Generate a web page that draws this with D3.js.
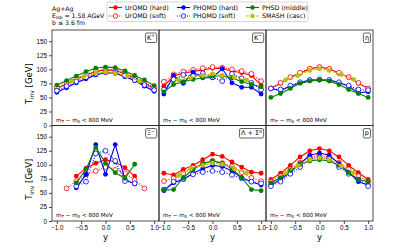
<!DOCTYPE html>
<html>
<head>
<meta charset="utf-8">
<script src="https://cdn.jsdelivr.net/npm/d3@7"></script>
<style>
  body { margin: 0; background: #fff; }
  svg { font-family: 'DejaVu Sans', sans-serif; }
  .tick text { font-size: 6.3px; fill: #000; }
  .tick line { stroke: #000; stroke-width: 0.7; }
  .domain { display: none; }
</style>
</head>
<body>
<div id="chart"></div>
<script>
//Rapidity bins
const rapFull = [-1.0, -0.8, -0.6, -0.4, -0.2, 0.0, 0.2, 0.4, 0.6, 0.8, 1.0];
const rapXi = [-0.6, -0.4, -0.2, 0.0, 0.2, 0.4, 0.6];
const rapXiSoft = [-0.8, -0.6, -0.4, -0.2, 0.0, 0.2, 0.4, 0.6, 0.8];
const rapSmash = [-0.7, -0.45, -0.2, 0.0, 0.2, 0.45, 0.7];

//K+
const kpUrqmdHard = [66, 74, 82, 90, 96, 99, 98, 92, 84, 75, 66];
const kpUrqmdSoft = [68, 76, 84, 91, 97, 100, 99, 94, 86, 77, 68];
const kpPhqmdHard = [59, 67, 76, 83, 90, 94, 93, 87, 80, 70, 61];
const kpPhqmdSoft = [62, 70, 78, 86, 92, 95, 94, 89, 81, 72, 63];
const kpPhsd = [72, 80, 88, 96, 102, 104, 103, 97, 89, 81, 71];
const kpSmash = [79, 87, 93, 95, 93, 88, 79];

//K-
const kmUrqmdHard = [70, 88, 93, 96, 99, 102, 101, 97, 94, 89, 72];
const kmUrqmdSoft = [78, 91, 96, 99, 102, 104, 103, 100, 97, 92, 79];
const kmPhqmdHard = [56, 89, 75, 95, 85, 85, 101, 76, 68, 68, 56];
const kmPhqmdSoft = [64, 82, 90, 88, 93, 86, 79, 92, 84, 76, 64];
const kmPhsd = [60, 73, 78, 82, 85, 88, 88, 85, 78, 73, 69];
const kmSmash = [81, 85, 89, 92, 89, 86, 81];

//eta
const etaUrqmdHard = [66, 75, 86, 93, 101, 104, 101, 93, 86, 75, 66];
const etaUrqmdSoft = [66, 76, 86, 94, 101, 104, 101, 94, 86, 76, 66];
const etaPhqmdHard = [66, 62, 70, 76, 81, 81, 81, 76, 70, 58, 60];
const etaPhqmdSoft = [66, 64, 71, 77, 81, 82, 81, 77, 71, 64, 63];
const etaPhsd = [50, 57, 66, 75, 79, 81, 79, 73, 64, 57, 50];
const etaSmash = [81, 89, 98, 101, 98, 91, 82];

//Xi-
const xiUrqmdHard = [80, 94, 103, 109, 105, 95, 80];
const xiUrqmdSoft = [58, 71, 83, 89, 96, 91, 85, 73, 58];
const xiPhqmdHard = [59, 83, 136, 83, 136, 74, 66];
const xiPhqmdSoft = [62, 70, 120, 125, 107, 71, 67];
const xiPhsd = [68, 92, 131, 103, 86, 76, 101];

//Lambda + Sigma0
const laUrqmdHard = [85, 82, 92, 99, 109, 119, 115, 105, 96, 87, 85];
const laUrqmdSoft = [71, 76, 85, 95, 102, 107, 103, 97, 87, 77, 71];
const laPhqmdHard = [54, 68, 74, 85, 93, 99, 97, 89, 77, 70, 64];
const laPhqmdSoft = [56, 70, 75, 83, 87, 89, 87, 82, 76, 70, 67];
const laPhsd = [55, 56, 77, 92, 102, 107, 103, 93, 77, 56, 54];
const laSmash = [81, 93, 99, 103, 101, 93, 85];

//protons
const pUrqmdHard = [74, 85, 99, 114, 125, 129, 125, 114, 99, 86, 74];
const pUrqmdSoft = [70, 80, 92, 104, 113, 117, 113, 104, 92, 80, 70];
const pPhqmdHard = [64, 74, 87, 102, 117, 121, 117, 102, 87, 70, 64];
const pPhqmdSoft = [62, 70, 84, 96, 111, 113, 111, 96, 84, 74, 62];
const pPhsd = [68, 77, 90, 101, 107, 109, 107, 99, 86, 74, 70];
const pSmash = [86, 98, 109, 112, 109, 98, 86];

//Model styles
const models = [
    {key: 'urqmdHard', label: 'UrQMD (hard)', color: '#ff0000', dash: null, open: false},
    {key: 'urqmdSoft', label: 'UrQMD (soft)', color: '#ff0000', dash: '1,1.5', open: true},
    {key: 'phqmdHard', label: 'PHQMD (hard)', color: '#0000ff', dash: null, open: false},
    {key: 'phqmdSoft', label: 'PHQMD (soft)', color: '#0000ff', dash: '1,1.5', open: true},
    {key: 'phsd', label: 'PHSD (middle)', color: '#008000', dash: null, open: false},
    {key: 'smash', label: 'SMASH (casc)', color: '#bfbf00', dash: '3.5,1.5', open: false}
];

const panels = [
    {row: 0, col: 0, tag: ['K', '+'], series: {
        urqmdHard: [rapFull, kpUrqmdHard], urqmdSoft: [rapFull, kpUrqmdSoft],
        phqmdHard: [rapFull, kpPhqmdHard], phqmdSoft: [rapFull, kpPhqmdSoft],
        phsd: [rapFull, kpPhsd], smash: [rapSmash, kpSmash]}},
    {row: 0, col: 1, tag: ['K', '−'], series: {
        urqmdHard: [rapFull, kmUrqmdHard], urqmdSoft: [rapFull, kmUrqmdSoft],
        phqmdHard: [rapFull, kmPhqmdHard], phqmdSoft: [rapFull, kmPhqmdSoft],
        phsd: [rapFull, kmPhsd], smash: [rapSmash, kmSmash]}},
    {row: 0, col: 2, tag: ['η', ''], series: {
        urqmdHard: [rapFull, etaUrqmdHard], urqmdSoft: [rapFull, etaUrqmdSoft],
        phqmdHard: [rapFull, etaPhqmdHard], phqmdSoft: [rapFull, etaPhqmdSoft],
        phsd: [rapFull, etaPhsd], smash: [rapSmash, etaSmash]}},
    {row: 1, col: 0, tag: ['Ξ', '−'], series: {
        urqmdHard: [rapXi, xiUrqmdHard], urqmdSoft: [rapXiSoft, xiUrqmdSoft],
        phqmdHard: [rapXi, xiPhqmdHard], phqmdSoft: [rapXi, xiPhqmdSoft],
        phsd: [rapXi, xiPhsd]}},
    {row: 1, col: 1, tag: ['Λ + Σ', '0'], series: {
        urqmdHard: [rapFull, laUrqmdHard], urqmdSoft: [rapFull, laUrqmdSoft],
        phqmdHard: [rapFull, laPhqmdHard], phqmdSoft: [rapFull, laPhqmdSoft],
        phsd: [rapFull, laPhsd], smash: [rapSmash, laSmash]}},
    {row: 1, col: 2, tag: ['p', ''], series: {
        urqmdHard: [rapFull, pUrqmdHard], urqmdSoft: [rapFull, pUrqmdSoft],
        phqmdHard: [rapFull, pPhqmdHard], phqmdSoft: [rapFull, pPhqmdSoft],
        phsd: [rapFull, pPhsd], smash: [rapSmash, pSmash]}}
];

const yTicks = [0, 25, 50, 75, 100, 125, 150];
const xTicks = [-1.0, -0.5, 0.0, 0.5, 1.0];

//Layout
const width = 415, height = 249;
const margin = {left: 52, top: 30};
const pw = 107, ph = 95.5;

const x = d3.scaleLinear().domain([-1.1, 1.1]).range([0, pw]);
const y = d3.scaleLinear().domain([0, 170]).range([ph, 0]);

const line = d3.line().x(d => x(d[0])).y(d => y(d[1]));

const svg = d3.select('#chart').append('svg')
    .attr('width', width)
    .attr('height', height);

panels.forEach(p => {
    const g = svg.append('g')
        .attr('transform', `translate(${margin.left + p.col * pw}, ${margin.top + p.row * ph})`);

    //Axes
    if (p.col === 0) {
        g.append('g')
            .call(d3.axisLeft(y).tickValues(yTicks).tickSize(3).tickPadding(2));
    }
    if (p.row === 1) {
        g.append('g')
            .attr('transform', `translate(0, ${ph})`)
            .call(d3.axisBottom(x).tickValues(xTicks).tickSize(3).tickPadding(1.5)
                .tickFormat(d => d3.format('.1f')(d).replace('-', '−')));
        g.append('text')
            .attr('x', pw / 2).attr('y', ph + 19)
            .attr('text-anchor', 'middle')
            .attr('font-size', 8.5)
            .text('y');
    }

    //Series
    models.forEach(m => {
        const s = p.series[m.key];
        if (!s) return;
        const pts = s[0].map((r, i) => [r, s[1][i]]);
        g.append('path')
            .attr('d', line(pts))
            .attr('fill', 'none')
            .attr('stroke', m.color)
            .attr('stroke-width', 1.1)
            .attr('stroke-dasharray', m.dash);
        g.selectAll(null)
            .data(pts)
            .enter()
            .append('circle')
            .attr('cx', d => x(d[0]))
            .attr('cy', d => y(d[1]))
            .attr('r', 2.4)
            .attr('fill', m.open ? '#fff' : m.color)
            .attr('stroke', m.color)
            .attr('stroke-width', m.open ? 0.8 : 0);
    });

    //Frame
    g.append('rect')
        .attr('width', pw).attr('height', ph)
        .attr('fill', 'none')
        .attr('stroke', '#222')
        .attr('stroke-width', 0.8);

    //Particle tag
    const tag = g.append('g');
    const tt = tag.append('text')
        .attr('font-size', 6.5)
        .attr('text-anchor', 'end')
        .attr('x', pw - 4).attr('y', 9.5);
    tt.append('tspan').text(p.tag[0]);
    if (p.tag[1]) {
        tt.append('tspan').attr('font-size', 4.5).attr('dy', -2.5).text(p.tag[1]);
    }
    const bb = tt.node().getBBox();
    tag.insert('rect', 'text')
        .attr('x', bb.x - 1.5).attr('y', 3)
        .attr('width', bb.width + 3).attr('height', 9.5)
        .attr('rx', 1.5)
        .attr('fill', '#fff')
        .attr('stroke', '#222')
        .attr('stroke-width', 0.7);

    //Cut annotation
    const cut = g.append('text')
        .attr('x', 4).attr('y', ph - 4)
        .attr('font-size', 5.6);
    cut.append('tspan').text('m');
    cut.append('tspan').attr('font-size', 4).attr('dy', 1.2).text('T');
    cut.append('tspan').attr('dy', -1.2).text(' − m');
    cut.append('tspan').attr('font-size', 4).attr('dy', 1.2).text('0');
    cut.append('tspan').attr('dy', -1.2).text(' < 800 MeV');
});

//Y labels
[0, 1].forEach(r => {
    const t = svg.append('text')
        .attr('transform', `translate(32, ${margin.top + r * ph + ph / 2 + 6}) rotate(-90)`)
        .attr('text-anchor', 'middle')
        .attr('font-size', 8.5);
    t.append('tspan').text('T');
    t.append('tspan').attr('font-size', 6).attr('dy', 2).text('inv');
    t.append('tspan').attr('dy', -2).text('  [GeV]');
});

//System info
const info = svg.append('g').attr('font-size', 6.2);
info.append('text').attr('x', 52).attr('y', 11).text('Ag+Ag');
const e = info.append('text').attr('x', 52).attr('y', 18);
e.append('tspan').text('E');
e.append('tspan').attr('font-size', 4.3).attr('dy', 1.3).text('lab');
e.append('tspan').attr('dy', -1.3).text(' = 1.58 AGeV');
info.append('text').attr('x', 52).attr('y', 25).text('b ≤ 3.6 fm');

//Legend
const legend = svg.append('g');
legend.append('rect')
    .attr('x', 107).attr('y', 2)
    .attr('width', 201).attr('height', 19.5)
    .attr('rx', 2)
    .attr('fill', '#fff')
    .attr('stroke', '#ccc')
    .attr('stroke-width', 0.8);

const colX = [109, 177, 246];
const rowY = [7.5, 16];
models.forEach((m, i) => {
    const cx = colX[Math.floor(i / 2)];
    const cy = rowY[i % 2];
    const k = legend.append('g');
    k.append('line')
        .attr('x1', cx).attr('x2', cx + 13)
        .attr('y1', cy).attr('y2', cy)
        .attr('stroke', m.color)
        .attr('stroke-width', 1.1)
        .attr('stroke-dasharray', m.dash);
    k.append('circle')
        .attr('cx', cx + 6.5).attr('cy', cy)
        .attr('r', 2.2)
        .attr('fill', m.open ? '#fff' : m.color)
        .attr('stroke', m.color)
        .attr('stroke-width', m.open ? 0.8 : 0);
    k.append('text')
        .attr('x', cx + 16).attr('y', cy + 2.2)
        .attr('font-size', 6.3)
        .text(m.label);
});
</script>
</body>
</html>
